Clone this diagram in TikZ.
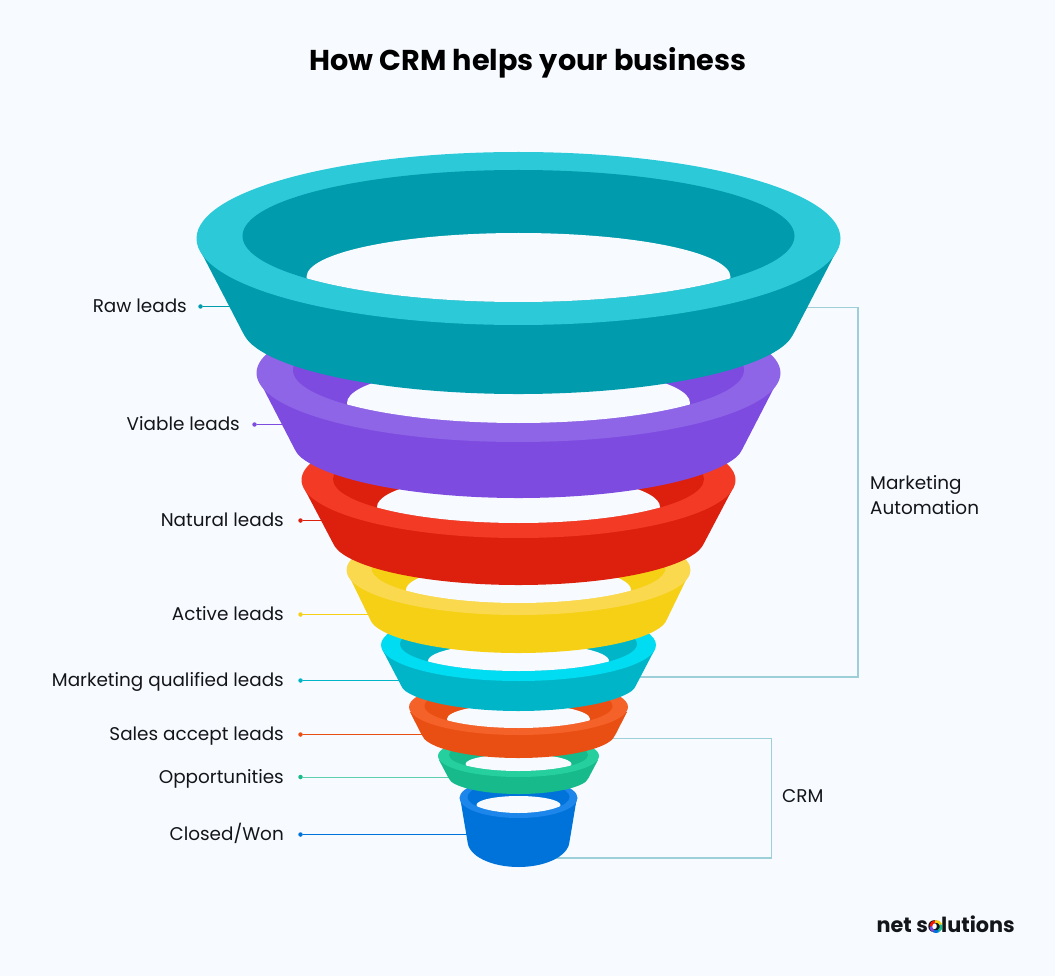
\documentclass[tikz,border=0pt]{standalone}
\usepackage{fontspec}
\usetikzlibrary{calc}
\setmainfont{Poppins}
\definecolor{pagebg}{HTML}{F7FBFF}
\definecolor{ink}{HTML}{14151A}
\definecolor{bracket}{HTML}{9CCFD8}
\definecolor{tealR}{HTML}{2CC9D9}\definecolor{tealD}{HTML}{009BAC}
\definecolor{purpR}{HTML}{8F65E8}\definecolor{purpD}{HTML}{7E4BE0}
\definecolor{redR}{HTML}{F33A25}\definecolor{redD}{HTML}{DC200D}
\definecolor{yelR}{HTML}{FAD94F}\definecolor{yelD}{HTML}{F6D015}
\definecolor{cyanR}{HTML}{00DDF2}\definecolor{cyanD}{HTML}{00B5C8}
\definecolor{oraR}{HTML}{F56229}\definecolor{oraD}{HTML}{E94F12}
\definecolor{grnR}{HTML}{25D09E}\definecolor{grnD}{HTML}{17BA8A}
\definecolor{bluR}{HTML}{1C86EA}\definecolor{bluD}{HTML}{0073DB}
\tikzset{
  leadlabel/.style={anchor=base east,inner sep=0pt,text=ink,font=\fontsize{18.4}{20}\selectfont},
  sidelabel/.style={anchor=base west,inner sep=0pt,text=ink,font=\fontsize{18.4}{20}\selectfont},
  leaddot/.style={circle,fill=#1,inner sep=0pt,minimum size=4.5pt},
  leader/.style={draw=#1,line width=1pt},
  bracketline/.style={draw=bracket,line width=1.1pt},
  ringarc/.style={draw=#1,line width=2.6pt},
}
% fbody: colour, left top x, top y, bottom-ellipse cy, rx, ry, corner angle
\newcommand\fbody[7]{%
  \fill[#1] (#2,#3)
    -- ($([shift={(518.5,#4)}]180-#7:#5 and #6)!0.12!(#2,#3)$)
    .. controls ([shift={(518.5,#4)}]180-#7:#5 and #6) ..
       ([shift={(518.5,#4)}]180-#7-4:#5 and #6)
    arc[start angle=180-#7-4,end angle=#7+4,x radius=#5,y radius=#6]
    .. controls ([shift={(518.5,#4)}]#7:#5 and #6) ..
       ($([shift={(518.5,#4)}]#7:#5 and #6)!0.12!({1037-#2},#3)$)
    -- ({1037-#2},#3) -- cycle;}
% fring: rim colour, cy, rx, ry
\newcommand\fring[4]{\fill[#1] (518.5,#2) ellipse[x radius=#3,y radius=#4];}
% fhole: dark colour, inner cy, rx, ry, hole cy, rx, ry
\newcommand\fhole[7]{%
  \fill[#1] (518.5,#2) ellipse[x radius=#3,y radius=#4];
  \begin{scope}
    \clip (518.5,#2) ellipse[x radius=#3,y radius=#4];
    \fill[pagebg] (518.5,#5) ellipse[x radius=#6,y radius=#7];
  \end{scope}}
% logoarc: colour, start angle, end angle
\newcommand\logoarc[3]{\path[ringarc=#1] ([shift={(936,926.5)}]#2:5.2) arc[start angle=#2,end angle=#3,radius=5.2];}
\begin{document}
\begin{tikzpicture}[x=1pt,y=1pt,yscale=-1]
\useasboundingbox (0,0) rectangle (1055,976);
\fill[pagebg] (0,0) rectangle (1055,976);

\node[anchor=base,inner sep=0pt,text=black,font=\fontsize{28.7}{32}\selectfont\bfseries] (title) at (528,70.5) {How CRM helps your business};

% labels, dots
\node[leadlabel] (lRaw) at (187,313) {Raw leads};
\node[leadlabel] (lVia) at (240,430.5) {Viable leads};
\node[leadlabel] (lNat) at (284,526.5) {Natural leads};
\node[leadlabel] (lAct) at (284,620.5) {Active leads};
\node[leadlabel] (lMql) at (284,686) {Marketing qualified leads};
\node[leadlabel] (lSal) at (284,740) {Sales accept leads};
\node[leadlabel] (lOpp) at (284,783) {Opportunities};
\node[leadlabel] (lClo) at (284,840.5) {Closed/Won};
\node[sidelabel] (lMar) at (870,489.5) {Marketing};
\node[sidelabel] (lAut) at (870,514.5) {Automation};
\node[sidelabel] (lCrm) at (782,802) {CRM};

\node[leaddot=tealD] (dRaw) at (200.5,306.5) {};
\node[leaddot=purpD] (dVia) at (254.5,424.5) {};
\node[leaddot=redD]  (dNat) at (300.5,520.5) {};
\node[leaddot=yelD]  (dAct) at (300.5,614.5) {};
\node[leaddot=cyanD] (dMql) at (300.5,680.5) {};
\node[leaddot=oraD]  (dSal) at (300.5,734.5) {};
\node[leaddot=grnD]  (dOpp) at (300.5,777) {};
\node[leaddot=bluD]  (dClo) at (300.5,834.5) {};

\coordinate (eRaw) at (240,306.5);
\coordinate (eVia) at (295,424.5);
\coordinate (eNat) at (330,520.5);
\coordinate (eAct) at (375,614.5);
\coordinate (eMql) at (410,680.5);
\coordinate (eSal) at (430,734.5);
\coordinate (eOpp) at (455,777);
\coordinate (eClo) at (470,834.5);
\path[leader=tealD] (dRaw) -- (eRaw);
\path[leader=purpD] (dVia) -- (eVia);
\path[leader=redD]  (dNat) -- (eNat);
\path[leader=yelD]  (dAct) -- (eAct);
\path[leader=cyanD] (dMql) -- (eMql);
\path[leader=oraD]  (dSal) -- (eSal);
\path[leader=grnD!70]  (dOpp) -- (eOpp);
\path[leader=bluD]  (dClo) -- (eClo);

% brackets
\coordinate (mA) at (790,307.5);
\coordinate (mB) at (858,307.5);
\coordinate (mC) at (858,677);
\coordinate (mD) at (630,677);
\path[bracketline] (mA) -- (mB) -- (mC) -- (mD);
\coordinate (cA) at (600,738.5);
\coordinate (cB) at (771.5,738.5);
\coordinate (cC) at (771.5,858);
\coordinate (cD) at (545,858);
\path[bracketline] (cA) -- (cB) -- (cC) -- (cD);

% funnel, lowest first
\fbody{bluD}{460.5}{800}{841}{51}{26}{8}
\fring{bluR}{798}{59}{20}
\fhole{bluD}{797}{51}{16}{805}{42}{9}

\fbody{grnD}{439}{760}{776}{71}{18}{15}
\fring{grnR}{756}{80.5}{21}
\fhole{grnD}{755}{69.5}{16}{764}{53}{10}

\fbody{oraD}{410}{712}{733}{97}{25}{10}
\fring{oraR}{707}{109.5}{28}
\fhole{oraD}{706}{94}{22}{719}{71.5}{15}

\fbody{cyanD}{382}{649}{681}{120}{30}{15.7}
\fring{cyanR}{645}{137.5}{36}
\fhole{cyanD}{644}{118.5}{27}{661}{90.5}{18}

\fbody{yelD}{350}{578}{615}{150}{38}{12.3}
\fring{yelR}{570}{172}{45}
\fhole{yelD}{568}{147}{35}{590}{112.5}{26}

\fbody{redD}{305}{490}{538}{187}{47}{11.2}
\fring{redR}{480}{217}{58}
\fhole{redD}{479}{185.5}{44}{507}{141.5}{33}

\fbody{purpD}{260}{382}{440}{228}{58}{13.8}
\fring{purpR}{373}{262}{69}
\fhole{purpD}{370}{225.5}{53}{403}{171.5}{38}

\fbody{tealD}{200}{250}{326}{277}{68}{9.1}
\fring{tealR}{238.5}{322}{86.5}
\fhole{tealD}{236}{276}{66}{277}{212}{44}

% logo
\node[anchor=base east,inner sep=0pt,text=ink,font=\fontsize{20.8}{24}\selectfont\bfseries] (logo) at (1015,932) {net solutions};
\logoarc{red!85!orange}{180}{260}
\logoarc{yelD}{260}{340}
\logoarc{grnD}{-20}{60}
\logoarc{bluD}{60}{120}
\logoarc{purpD}{120}{180}
\end{tikzpicture}
\end{document}
